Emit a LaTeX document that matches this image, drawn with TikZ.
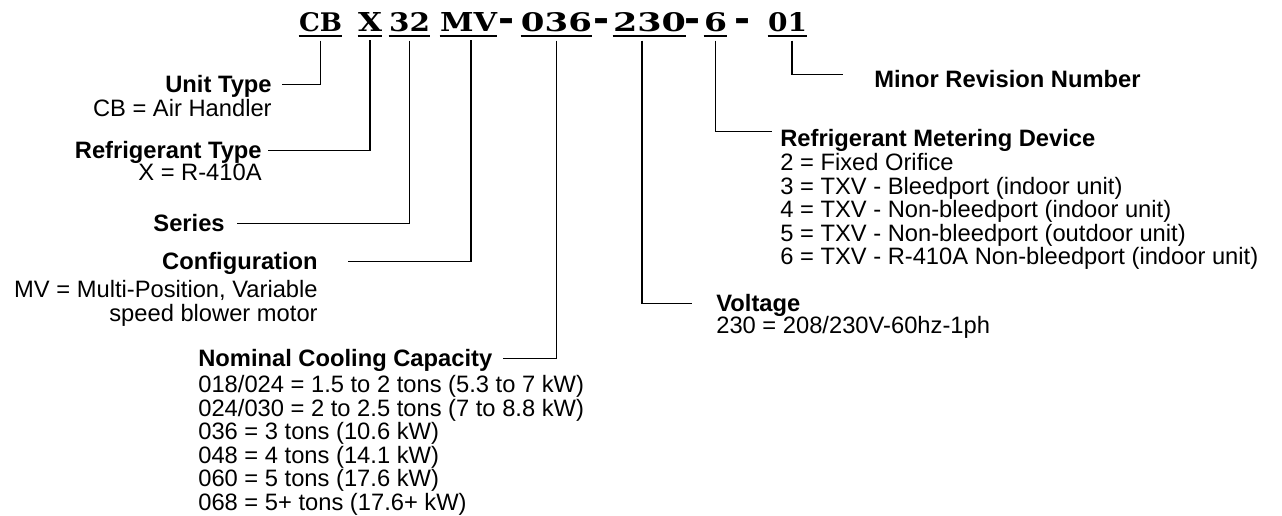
\documentclass[tikz,border=0pt]{standalone}
\usepackage{graphicx}
\usepackage{fontspec}
\setmainfont{Liberation Sans}
\newfontfamily\headfont{DejaVu Serif}

\newdimen\pxu \pxu=0.02cm
\newcommand{\seg}[2]{\resizebox{#1\pxu}{0.38cm}{\headfont\bfseries #2}}

\begin{document}
\begin{tikzpicture}[x=0.02cm, y=-0.02cm]

            \tikzstyle{codepart} = [inner xsep=0pt, inner ysep=0.07cm, anchor=base];
            \tikzstyle{codedash} = [inner sep=0pt, anchor=base, font=\headfont\bfseries\fontsize{22}{22}\selectfont];
            \tikzstyle{uline} = [line width=0.9pt];
            \tikzstyle{leader} = [line width=0.95pt, shorten <=0.09cm];
            \tikzstyle{title} = [inner sep=0pt, text height=9.6pt, text depth=0pt, font=\bfseries\fontsize{13.5}{13.4}\selectfont];
            \tikzstyle{desc} = [inner sep=0pt, font=\fontsize{13.5}{13.4}\selectfont];

            \useasboundingbox (0,0) rectangle (1282,516);

            % model number
            \node[codepart] (unitcode) at (320.5,32) {\seg{43}{CB}};
            \node[codepart] (refcode) at (370,32) {\seg{24}{X}};
            \node[codepart] (sercode) at (409.5,32) {\seg{41}{32}};
            \node[codepart] (confcode) at (468.5,32) {\seg{57}{MV}};
            \node[codedash] (dash1) at (507,31.5) {-};
            \node[codepart] (capcode) at (556.5,32) {\seg{71}{036}};
            \node[codedash] (dash2) at (602,31.5) {-};
            \node[codepart] (voltcode) at (649.5,32) {\seg{73}{230}};
            \node[codedash] (dash3) at (693,31.5) {-};
            \node[codepart] (metercode) at (715.5,32) {\seg{23}{6}};
            \node[codedash] (dash4) at (742.5,31.5) {-};
            \node[codepart] (revcode) at (787.5,32) {\seg{39}{01}};

            \draw[uline] (unitcode.south west) -- (unitcode.south east);
            \draw[uline] (refcode.south west) -- (refcode.south east);
            \draw[uline] (sercode.south west) -- (sercode.south east);
            \draw[uline] (confcode.south west) -- (confcode.south east);
            \draw[uline] (capcode.south west) -- (capcode.south east);
            \draw[uline] (voltcode.south west) -- (voltcode.south east);
            \draw[uline] (metercode.south west) -- (metercode.south east);
            \draw[uline] (revcode.south west) -- (revcode.south east);

            % left side
            \node[title, anchor=base east] (unit) at (272,93) {Unit Type};
            \node[desc, anchor=base east] (unitdesc) at (272,117) {CB = Air Handler};
            \node[title, anchor=base east] (refrig) at (262,159) {Refrigerant Type};
            \node[desc, anchor=base east] (refrigdesc) at (262,181) {X = R-410A};
            \node[title, anchor=base east] (series) at (225,232) {Series};
            \node[title, anchor=base east] (config) at (318,270) {Configuration};
            \node[desc, anchor=north east, align=right] (configdesc) at (318,280) {MV = Multi-Position, Variable\\speed blower motor};
            \node[title, anchor=base west] (capacity) at (198,367) {Nominal Cooling Capacity};
            \node[desc, anchor=north west, align=left] (capdesc) at (198,375) {018/024 = 1.5 to 2 tons (5.3 to 7 kW)\\024/030 = 2 to 2.5 tons (7 to 8.8 kW)\\036 = 3 tons (10.6 kW)\\048 = 4 tons (14.1 kW)\\060 = 5 tons (17.6 kW)\\068 = 5+ tons (17.6+ kW)};

            % right side
            \node[title, anchor=base west] (revision) at (874,88) {Minor Revision Number};
            \node[title, anchor=base west] (metering) at (780,147) {Refrigerant Metering Device};
            \node[desc, anchor=north west, align=left] (meterdesc) at (780,153) {2 = Fixed Orifice\\3 = TXV - Bleedport (indoor unit)\\4 = TXV - Non-bleedport (indoor unit)\\5 = TXV - Non-bleedport (outdoor unit)\\6 = TXV - R-410A Non-bleedport (indoor unit)};
            \node[title, anchor=base west] (voltage) at (716,312) {Voltage};
            \node[desc, anchor=base west] (voltdesc) at (716,334) {230 = 208/230V-60hz-1ph};

            \draw[leader] (unitcode.south) |- ([xshift=0.2cm]unit.east);
            \draw[leader] (refcode.south) |- ([xshift=0.12cm]refrig.east);
            \draw[leader] (sercode.south) |- ([xshift=0.24cm]series.east);
            \draw[leader] ([xshift=0.05cm]confcode.south) |- ([xshift=0.6cm]config.east);
            \draw[leader] (capcode.south) |- ([xshift=0.2cm]capacity.east);
            \draw[leader] ([xshift=-0.15cm]voltcode.south) |- ([xshift=-0.48cm]voltage.west);
            \draw[leader] (metercode.south) |- ([xshift=-0.16cm, yshift=0.14cm]metering.west);
            \draw[leader] ([xshift=0.09cm]revcode.south) |- ([xshift=-0.62cm, yshift=0.1cm]revision.west);

\end{tikzpicture}
\end{document}
